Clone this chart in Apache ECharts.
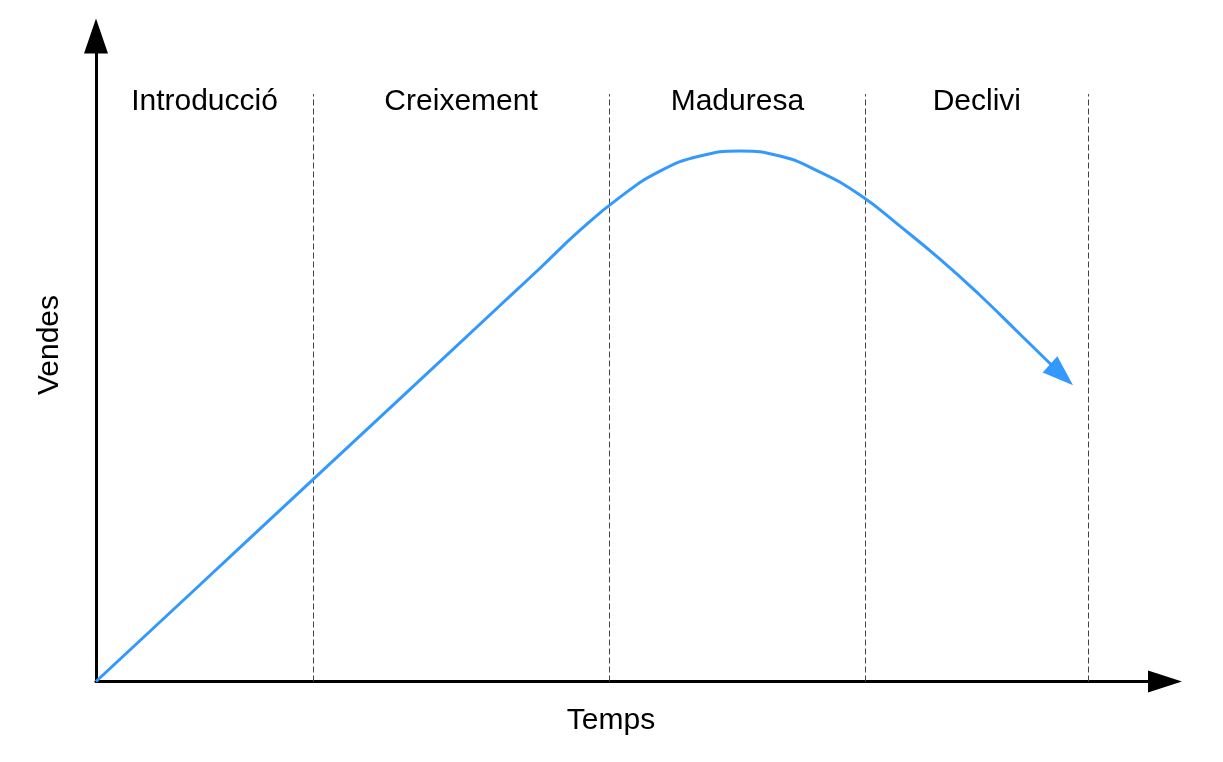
<!DOCTYPE html>
<html>
<head>
<meta charset="utf-8">
<script src="https://cdn.jsdelivr.net/npm/echarts@6/dist/echarts.min.js"></script>
<style>
html,body{margin:0;padding:0;background:#fff;}
#chart{width:1223px;height:762px;}
</style>
</head>
<body>
<div id="chart"></div>
<script>
// ---- data ----
const phaseNames = ['Introducció', 'Creixement', 'Maduresa', 'Declivi'];
const phaseBounds = [0, 20.3, 48.0, 72.0, 92.8];   // x positions of phase borders (time units)
const dividerTop = 91;                               // height reached by dashed dividers
const labelY = 89.8;                                 // height of the phase labels
const timeX = [0, 9.73, 19.08, 28.44, 37.79, 41.53, 45.28, 49.02, 52.76, 56.50, 60.24, 63.98, 67.73, 71.47, 75.21, 78.95, 82.69, 86.44, 90.32];
const salesY = [0, 14.99, 29.41, 43.83, 58.25, 64.02, 69.92, 75.04, 79.07, 81.40, 82.17, 81.40, 78.91, 75.35, 70.54, 65.43, 59.84, 53.80, 47.52];
const xTitle = 'Temps';
const yTitle = 'Vendes';

// ---- build ----
const lineData = timeX.map((x, i) => {
  if (i === timeX.length - 1) {
    return { value: [x, salesY[i]], symbol: 'triangle', symbolSize: [22, 31], symbolRotate: -132 };
  }
  return { value: [x, salesY[i]], symbol: 'none' };
});

const dividers = phaseBounds.slice(1).map(x => [{ coord: [x, 0] }, { coord: [x, dividerTop] }]);
const areas = phaseNames.map((n, i) => [
  { name: n, coord: [phaseBounds[i], labelY - 3] },
  { coord: [phaseBounds[i + 1], labelY + 3] }
]);

const FONT = '"Liberation Sans", Arial, sans-serif';
const chart = echarts.init(document.getElementById('chart'));
chart.setOption({
  animation: false,
  backgroundColor: '#fff',
  grid: { left: 96, right: 58, top: 36, bottom: 80.5 },
  xAxis: {
    type: 'value', min: 0, max: 100,
    axisLine: { show: true, symbol: ['none', 'triangle'], symbolSize: [22, 34], lineStyle: { color: '#000', width: 3 } },
    axisTick: { show: false }, axisLabel: { show: false }, splitLine: { show: false }
  },
  yAxis: {
    type: 'value', min: 0, max: 100,
    axisLine: { show: true, symbol: ['none', 'triangle'], symbolSize: [24, 35], lineStyle: { color: '#000', width: 3 } },
    axisTick: { show: false }, axisLabel: { show: false }, splitLine: { show: false }
  },
  graphic: [
    { type: 'text', x: 611, y: 721, style: { text: xTitle, font: '30px ' + FONT, fill: '#000', align: 'center', verticalAlign: 'middle' } },
    { type: 'text', x: 50, y: 345, rotation: Math.PI / 2, style: { text: yTitle, font: '30px ' + FONT, fill: '#000', align: 'center', verticalAlign: 'middle' } }
  ],
  series: [{
    type: 'line',
    data: lineData,
    smooth: 0.5,
    symbol: 'none',
    showSymbol: true,
    itemStyle: { color: '#3399ff' },
    lineStyle: { color: '#3399ff', width: 3 },
    z: 5,
    markLine: {
      silent: true,
      symbol: ['none', 'none'],
      label: { show: false },
      lineStyle: { color: '#444', width: 1, type: [6, 3] },
      data: dividers
    },
    markArea: {
      silent: true,
      itemStyle: { color: 'rgba(0,0,0,0)' },
      label: { show: true, position: 'inside', color: '#000', fontSize: 30, fontFamily: FONT },
      data: areas
    }
  }]
});
</script>
</body>
</html>
